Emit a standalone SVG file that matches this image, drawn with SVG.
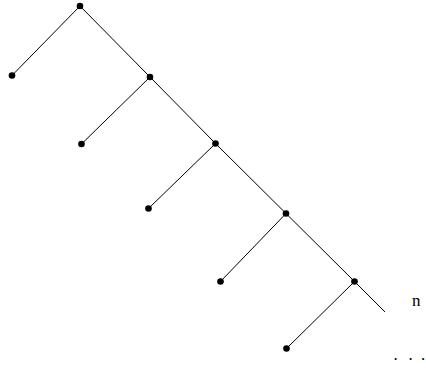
<svg xmlns="http://www.w3.org/2000/svg" width="426" height="369" viewBox="0 0 426 369">
<style>
.e{stroke:#000;stroke-width:1;fill:none}
.d{fill:#000}
.t{font-family:"Liberation Serif","DejaVu Serif",serif;font-size:17px;fill:#000}
</style>
<rect width="426" height="369" fill="#fff"/>
<g id="edges">
<path class="e" d="M80,6 L12,75.5 M80,6 L150,77 L215.5,143.5 L286,213.5 L354.5,281.5 L385,312 M150,77 L81.5,144 M215.5,143.5 L148.5,208.5 M286,213.5 L220.5,281.5 M354.5,281.5 L286.5,348.5"/>
</g>
<g id="n0"><circle class="d" cx="80" cy="6" r="3.3"/></g>
<g id="l0"><circle class="d" cx="12" cy="75.5" r="3.3"/></g>
<g id="n1"><circle class="d" cx="150" cy="77" r="3.3"/></g>
<g id="l1"><circle class="d" cx="81.5" cy="144" r="3.3"/></g>
<g id="n2"><circle class="d" cx="215.5" cy="143.5" r="3.3"/></g>
<g id="l2"><circle class="d" cx="148.5" cy="208.5" r="3.3"/></g>
<g id="n3"><circle class="d" cx="286" cy="213.5" r="3.3"/></g>
<g id="l3"><circle class="d" cx="220.5" cy="281.5" r="3.3"/></g>
<g id="n4"><circle class="d" cx="354.5" cy="281.5" r="3.3"/></g>
<g id="l4"><circle class="d" cx="286.5" cy="348.5" r="3.3"/></g>
<g id="label-n"><text class="t" x="412" y="305.5">n</text></g>
<g id="label-dots"><text class="t" x="393.5 408.5 421" y="360">...</text></g>
</svg>
